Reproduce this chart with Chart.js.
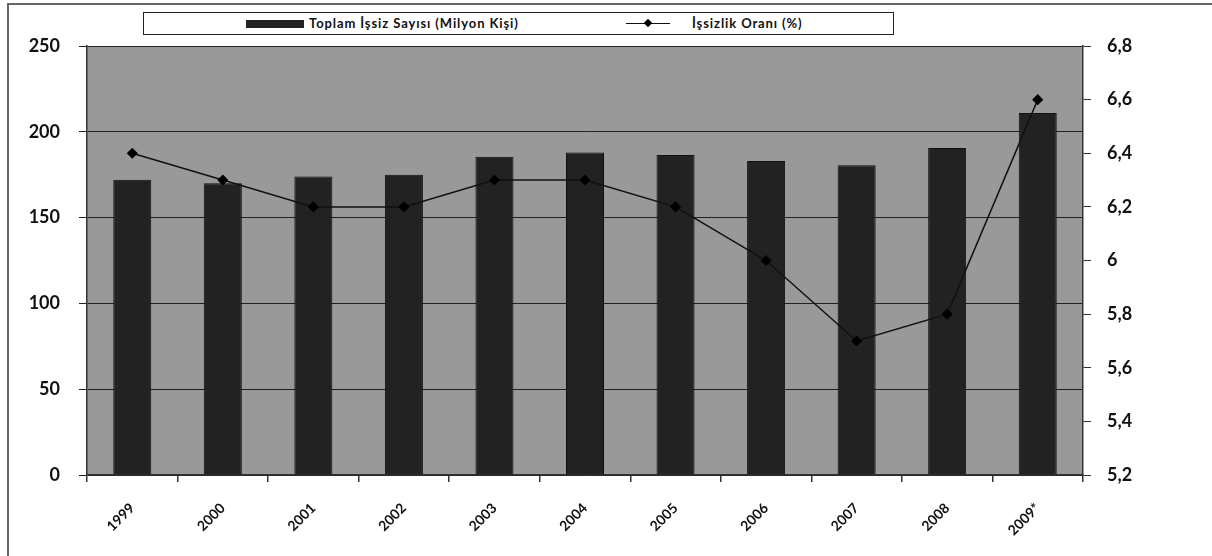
<!DOCTYPE html>
<html>
<head>
<meta charset="utf-8">
<script src="https://cdn.jsdelivr.net/npm/chart.js@4.4.1/dist/chart.umd.min.js"></script>
<style>
  html, body { margin: 0; padding: 0; background: #fff; }
  #wrap { position: relative; width: 1212px; height: 556px; overflow: hidden; }
  #frame { position: absolute; left: 7px; top: 3px; width: 1220px; height: 600px;
           border-left: 2px solid #666; border-top: 2px solid #666; }
  #legend { position: absolute; left: 143px; top: 12px; width: 749px; height: 21px;
            border: 1px solid #222; background: #fff;
            font-family: Lato, "Liberation Sans", sans-serif; font-weight: bold; font-size: 13px;
            letter-spacing: 0.9px; color: #111; }
  .item { position: absolute; top: 0; height: 21px; line-height: 21px; white-space: nowrap; }
  .swatch { display: inline-block; vertical-align: middle; }
  canvas { position: absolute; left: 0; top: 0; }
</style>
</head>
<body>
<div id="wrap">
  <div id="frame"></div>
  <canvas id="chart" width="1212" height="556"></canvas>
  <div id="legend">
    <div class="item" style="left:102px;">
      <span class="swatch" style="width:58px;height:8px;background:#222;margin-right:5px;margin-top:-2px;"></span>Toplam İşsiz Sayısı (Milyon Kişi)
    </div>
    <div class="item" style="left:482px;">
      <span class="swatch" style="position:relative;width:44px;height:1px;background:#111;margin-right:22px;margin-top:-2px;">
        <span style="position:absolute;left:19px;top:-3px;width:6px;height:6px;background:#000;transform:rotate(45deg);"></span>
      </span>İşsizlik Oranı (%)
    </div>
  </div>
</div>
<script>
const years = ['1999', '2000', '2001', '2002', '2003', '2004', '2005', '2006', '2007', '2008', '2009*'];
const unemployedTotal = [172, 170, 174, 175, 185.5, 188, 186.5, 183, 180.5, 190.5, 211];
const unemploymentRate = [6.4, 6.3, 6.2, 6.2, 6.3, 6.3, 6.2, 6.0, 5.7, 5.8, 6.6];

const tickFont = { family: 'Lato, "Liberation Sans", sans-serif', weight: 'bold', size: 18 };

// plot area background
const plotBg = {
    id: 'plotBg',
    beforeDraw(chart) {
        const a = chart.chartArea;
        const ctx = chart.ctx;
        ctx.save();
        ctx.fillStyle = '#999999';
        ctx.fillRect(a.left, a.top, a.right - a.left, a.bottom - a.top);
        ctx.restore();
    }
};

const ctx = document.getElementById('chart').getContext('2d');
const chart = new Chart(ctx, {
    type: 'bar',
    data: {
        labels: years,
        datasets: [{
            type: 'line',
            label: 'İşsizlik Oranı (%)',
            data: unemploymentRate,
            yAxisID: 'y2',
            borderColor: '#111',
            borderWidth: 1.5,
            pointStyle: 'rectRot',
            pointRadius: 4.5,
            pointBackgroundColor: '#000',
            pointBorderColor: '#000',
            tension: 0,
            order: 0
        }, {
            label: 'Toplam İşsiz Sayısı (Milyon Kişi)',
            data: unemployedTotal,
            yAxisID: 'y',
            backgroundColor: '#222222',
            borderColor: '#111',
            borderWidth: 1,
            categoryPercentage: 1,
            barPercentage: 0.42,
            order: 1
        }]
    },
    options: {
        responsive: false,
        animation: false,
        layout: { padding: { top: 46, left: 0, right: 0, bottom: 0 } },
        plugins: {
            legend: { display: false },
            tooltip: { enabled: false }
        },
        scales: {
            x: {
                offset: true,
                border: { color: '#333', width: 1.5 },
                grid: { offset: true, drawOnChartArea: false, color: '#333', tickLength: 7, lineWidth: 1.5 },
                ticks: {
                    font: { family: 'Lato, "Liberation Sans", sans-serif', weight: 'bold', size: 14 },
                    color: '#111',
                    maxRotation: 45,
                    minRotation: 45,
                    padding: 18
                },
                afterFit(scale) { scale.height = 81; }
            },
            y: {
                position: 'left',
                min: 0,
                max: 250,
                border: { color: '#333', width: 1.5 },
                grid: { color: '#222', lineWidth: 1, tickLength: 8, drawTicks: true },
                ticks: { stepSize: 50, font: tickFont, color: '#111', padding: 19 },
                afterFit(scale) { scale.width = 87; }
            },
            y2: {
                position: 'right',
                min: 5.2,
                max: 6.8,
                border: { color: '#333', width: 1.5 },
                grid: { drawOnChartArea: false, color: '#333', tickLength: 8 },
                ticks: {
                    stepSize: 0.2,
                    font: tickFont,
                    color: '#111',
                    padding: 16,
                    callback: v => String(Math.round(v * 10) / 10).replace('.', ',')
                },
                afterFit(scale) { scale.width = 129; }
            }
        }
    },
    plugins: [plotBg]
});
</script>
</body>
</html>
